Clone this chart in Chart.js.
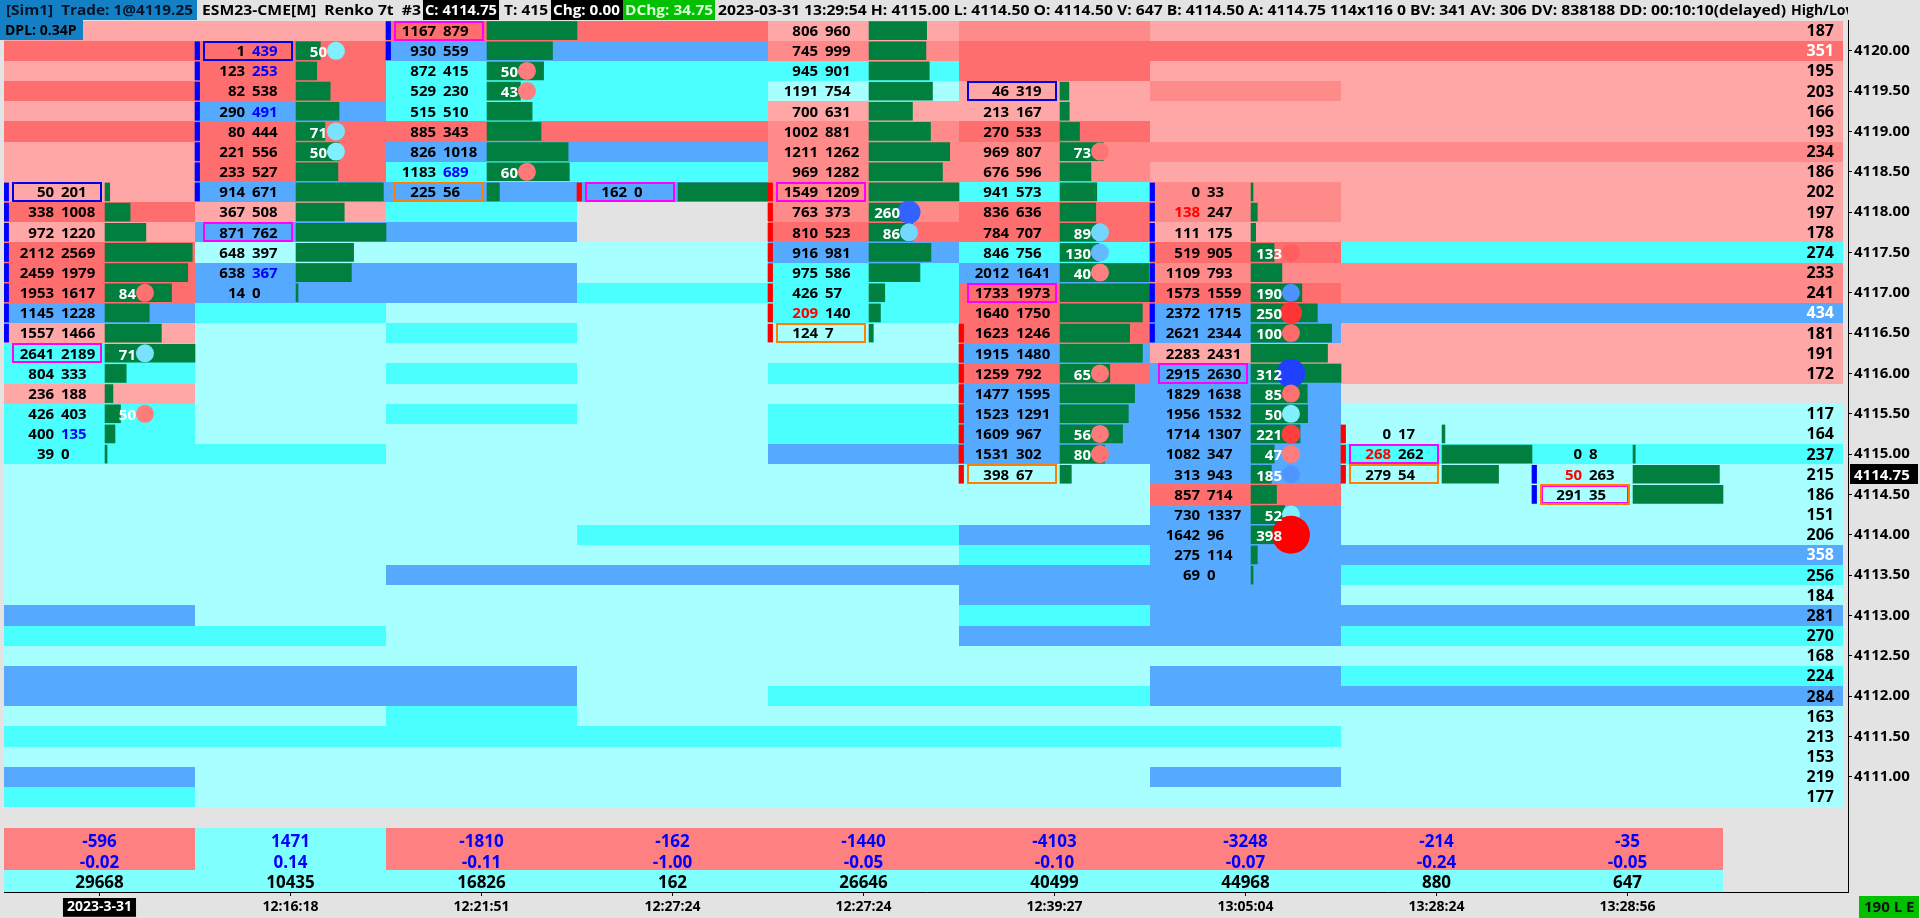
<!DOCTYPE html>
<html>
<head>
<meta charset="utf-8">
<title>ESM23-CME Renko 7t footprint</title>
<script src="https://cdn.jsdelivr.net/npm/chart.js@4.4.1/dist/chart.umd.min.js"></script>
<style>
  html, body { margin: 0; padding: 0; background: #e3e3e3; overflow: hidden; }
  #wrap { position: relative; width: 1920px; height: 918px; }
</style>
</head>
<body>
<div id="wrap"><canvas id="footprint" width="1920" height="918"></canvas></div>
<script>
// price rows shown on the chart, top to bottom
const priceLevels = [4120.25, 4120.00, 4119.75, 4119.50, 4119.25, 4119.00, 4118.75, 4118.50, 4118.25, 4118.00,
  4117.75, 4117.50, 4117.25, 4117.00, 4116.75, 4116.50, 4116.25, 4116.00, 4115.75, 4115.50,
  4115.25, 4115.00, 4114.75, 4114.50, 4114.25, 4114.00, 4113.75, 4113.50, 4113.25, 4113.00,
  4112.75, 4112.50, 4112.25, 4112.00, 4111.75, 4111.50, 4111.25, 4111.00, 4110.75];
const priceTicks = [4120.00, 4119.50, 4119.00, 4118.50, 4118.00, 4117.50, 4117.00, 4116.50, 4116.00,
  4115.50, 4115.00, 4114.50, 4114.00, 4113.50, 4113.00, 4112.50, 4112.00, 4111.50, 4111.00];
const timeLabels = ['2023-3-31', '12:16:18', '12:21:51', '12:27:24', '12:27:24', '12:39:27', '13:05:04', '13:28:24', '13:28:56'];
const currentPrice = 4114.75;

// footprint of each renko bar: first visible row, bid x ask per row
const firstRow = [8, 1, 0, 8, 0, 3, 8, 20, 21];
const bidVolume = [
  [50, 338, 972, 2112, 2459, 1953, 1145, 1557, 2641, 804, 236, 426, 400, 39],
  [1, 123, 82, 290, 80, 221, 233, 914, 367, 871, 648, 638, 14],
  [1167, 930, 872, 529, 515, 885, 826, 1183, 225],
  [162],
  [806, 745, 945, 1191, 700, 1002, 1211, 969, 1549, 763, 810, 916, 975, 426, 209, 124],
  [46, 213, 270, 969, 676, 941, 836, 784, 846, 2012, 1733, 1640, 1623, 1915, 1259, 1477, 1523, 1609, 1531, 398],
  [0, 138, 111, 519, 1109, 1573, 2372, 2621, 2283, 2915, 1829, 1956, 1714, 1082, 313, 857, 730, 1642, 275, 69],
  [0, 268, 279],
  [0, 50, 291]
];
const askVolume = [
  [201, 1008, 1220, 2569, 1979, 1617, 1228, 1466, 2189, 333, 188, 403, 135, 0],
  [439, 253, 538, 491, 444, 556, 527, 671, 508, 762, 397, 367, 0],
  [879, 559, 415, 230, 510, 343, 1018, 689, 56],
  [0],
  [960, 999, 901, 754, 631, 881, 1262, 1282, 1209, 373, 523, 981, 586, 57, 140, 7],
  [319, 167, 533, 807, 596, 573, 636, 707, 756, 1641, 1973, 1750, 1246, 1480, 792, 1595, 1291, 967, 302, 67],
  [33, 247, 175, 905, 793, 1559, 1715, 2344, 2431, 2630, 1638, 1532, 1307, 347, 943, 714, 1337, 96, 114, 0],
  [17, 262, 54],
  [8, 263, 35]
];
// imbalance highlights (row index)
const askHighlight = [[20], [1, 2, 4, 12], [7], [], [], [], [], [], []];
const bidHighlight = [[], [], [], [], [14], [], [9], [21], [22]];
// outlined cells: [row, kind]
const cellBoxes = [
  [[8, 'blue'], [16, 'magenta']],
  [[1, 'blue'], [10, 'magenta']],
  [[0, 'magenta'], [8, 'orange']],
  [[8, 'magenta']],
  [[8, 'magenta'], [15, 'orange']],
  [[3, 'blue'], [13, 'magenta'], [22, 'orange']],
  [[17, 'magenta']],
  [[21, 'magenta'], [22, 'orange']],
  [[23, 'both']]
];
// open/close body rows: [from, to, direction]
const bodyRange = [[8, 15, 'up'], [1, 8, 'up'], [0, 1, 'up'], [8, 8, 'down'], [8, 15, 'down'],
  [15, 22, 'down'], [8, 15, 'up'], [20, 22, 'down'], [22, 23, 'up']];
// large trade dots: [row, signed size]
const largeTrades = [
  [[13, -84], [16, 71], [19, -50]],
  [[1, 50], [5, 71], [6, 50]],
  [[2, -50], [3, -43], [7, -60]],
  [],
  [[9, 260], [10, 86]],
  [[6, -73], [10, 89], [11, 130], [12, -40], [17, -65], [20, -56], [21, -80]],
  [[11, -133], [13, 190], [14, -250], [15, -100], [17, 312], [18, -85], [19, 50], [20, -221], [21, -47], [22, 185], [24, 52], [25, -398]],
  [], []
];
// row shading per bar column, last entry = volume profile on the right
// P light red, M mid red, R red, B blue, C cyan, L light cyan, G none
const cellShade = [
  'PRPRPRPPPRPRRRBPCCPCCCLLLLLLLBCLBBLCLBC',
  'PRRRBRRRBPBLBBCLLLLLLCLLLLLLLLCLBBLCLLL',
  'RBCCCRBCBCBLBBLCLCLCLLLLLLLBLLLLBBCCLLL',
  'RBCCCRBCBGGLLCLLLLLLLLLLLCLBLLLLLLLCLLL',
  'PMCLPMMMMMRBCCCLLCLCCBLLLCLBLLLLLCLCLLL',
  'MRRPPRMMCRRCBRRRBRBBBBLLLBCBBCBLLCLCLLL',
  'PRPMPPMPMMPRMRBBPBBBBBBRBBBBBBBLBBLCLBL',
  'PRPPPPMPPPPCMMBPPPGLLCLLLLBCLBCLCBLLLLL'
];
const profileVolume = [187, 351, 195, 203, 166, 193, 234, 186, 202, 197, 178, 274, 233, 241, 434, 181, 191, 172, null,
  117, 164, 237, 215, 186, 151, 206, 358, 256, 184, 281, 270, 168, 224, 284, 163, 213, 153, 219, 177];

// study under the bars
const barDelta = [-596, 1471, -1810, -162, -1440, -4103, -3248, -214, -35];
const deltaRatio = [-0.02, 0.14, -0.11, -1.00, -0.05, -0.10, -0.07, -0.24, -0.05];
const barVolume = [29668, 10435, 16826, 162, 26646, 40499, 44968, 880, 647];

// layout inside a column (one column = 1 x unit)
const BOX_L = 0.042, BOX_R = 0.513;
const BID_X = 0.262, ASK_X = 0.298;
const BAR_START = 0.529, BAR_SPAN = 0.471;
const DOT_X = 0.738, DOT_LABEL_X = 0.691;
const BODY_W = 0.024;
const PROFILE_END = 9.628;

const SHADE = { P: '#ffa6a6', M: '#ff8a8a', R: '#ff6e6e', B: '#55aaff', C: '#4bffff', L: '#a8ffff' };
const BOX_COLOR = { blue: '#0000e6', magenta: '#ff00ff', orange: '#ff8000' };
const BOLD = "'Open Sans', 'DejaVu Sans', sans-serif";

function dotRadius(v) {
  return Math.max(9, 9.5 + (Math.abs(v) - 221) * 0.0537);
}
function dotColor(v) {
  if (v > 0) {
    const t = Math.min(1, Math.max(0, (v - 50) / 262));
    return `rgb(${Math.round(128 - 96 * t)},${Math.round(240 - 176 * t)},255)`;
  }
  const t = Math.min(1, Math.max(0, (-v - 40) / 358));
  const g = Math.round(128 - 128 * t);
  return `rgb(255,${g},${g})`;
}

const volumeBars = [], bodyBars = [], bodyColors = [], dots = [], dotColors = [];
bidVolume.forEach((bids, c) => {
  const totals = bids.map((b, i) => b + askVolume[c][i]);
  const top = Math.max(...totals);
  totals.forEach((t, i) => {
    volumeBars.push({ x: [c + BAR_START, c + BAR_START + BAR_SPAN * t / top], y: priceLevels[firstRow[c] + i] });
  });
  const [from, to, dir] = bodyRange[c];
  for (let r = from; r <= to; r++) {
    bodyBars.push({ x: [c, c + BODY_W], y: priceLevels[r] });
    bodyColors.push(dir === 'up' ? '#0000ff' : '#ff0000');
  }
  largeTrades[c].forEach(([r, v]) => {
    dots.push({ x: c + DOT_X, y: priceLevels[r], r: dotRadius(v) });
    dotColors.push(dotColor(v));
  });
});

function rowEdges(y, p) {
  const top = Math.round(y.getPixelForValue(p + 0.125));
  const bot = Math.round(y.getPixelForValue(p - 0.125));
  return [top, bot];
}

const footprint = {
  id: 'footprint',
  beforeDatasetsDraw(chart) {
    const { ctx, scales: { x, y, ys } } = chart;
    ctx.save();
    cellShade.forEach((col, r) => {
      const x0 = Math.round(x.getPixelForValue(r));
      const x1 = Math.round(x.getPixelForValue(r < 7 ? r + 1 : PROFILE_END));
      [...col].forEach((s, i) => {
        if (!SHADE[s]) return;
        const [top, bot] = rowEdges(y, priceLevels[i]);
        ctx.fillStyle = SHADE[s];
        ctx.fillRect(x0, top, x1 - x0, bot - top);
      });
    });
    // study bands
    barDelta.forEach((d, c) => {
      const x0 = Math.round(x.getPixelForValue(c));
      const x1 = Math.round(x.getPixelForValue(c + 1));
      const a = Math.round(ys.getPixelForValue(3.2)), b = Math.round(ys.getPixelForValue(1.1)), z = Math.round(ys.getPixelForValue(0));
      ctx.fillStyle = d < 0 ? '#ff8080' : '#80ffff';
      ctx.fillRect(x0, a, x1 - x0, b - a);
      ctx.fillStyle = '#80ffff';
      ctx.fillRect(x0, b, x1 - x0, z - b);
    });
    ctx.restore();
  },
  afterDatasetsDraw(chart) {
    const { ctx, scales: { x, y, ys } } = chart;
    ctx.save();
    ctx.textBaseline = 'middle';
    // outlined cells
    ctx.lineWidth = 2;
    cellBoxes.forEach((boxes, c) => {
      boxes.forEach(([r, kind]) => {
        const [top, bot] = rowEdges(y, priceLevels[r]);
        const x0 = Math.round(x.getPixelForValue(c + BOX_L));
        const x1 = Math.round(x.getPixelForValue(c + BOX_R));
        ctx.strokeStyle = BOX_COLOR[kind === 'both' ? 'orange' : kind];
        ctx.strokeRect(x0 + 1, top + 1, x1 - x0 - 2, bot - top - 2);
        if (kind === 'both') {
          ctx.strokeStyle = BOX_COLOR.magenta;
          ctx.lineWidth = 1;
          ctx.strokeRect(x0 + 2.5, top + 2.5, x1 - x0 - 5, bot - top - 5);
          ctx.lineWidth = 2;
        }
      });
    });
    // bid x ask text
    ctx.font = `bold 15px ${BOLD}`;
    bidVolume.forEach((bids, c) => {
      bids.forEach((b, i) => {
        const r = firstRow[c] + i;
        const yc = y.getPixelForValue(priceLevels[r]) + 1;
        ctx.textAlign = 'right';
        ctx.fillStyle = bidHighlight[c].includes(r) ? '#ff0000' : '#000';
        ctx.fillText(String(b), x.getPixelForValue(c + BID_X), yc);
        ctx.textAlign = 'left';
        ctx.fillStyle = askHighlight[c].includes(r) ? '#0000ff' : '#000';
        ctx.fillText(String(askVolume[c][i]), x.getPixelForValue(c + ASK_X), yc);
      });
    });
    // dot labels
    ctx.fillStyle = '#fff';
    ctx.textAlign = 'right';
    largeTrades.forEach((list, c) => {
      list.forEach(([r, v]) => {
        ctx.fillText(String(Math.abs(v)), x.getPixelForValue(c + DOT_LABEL_X), y.getPixelForValue(priceLevels[r]) + 2);
      });
    });
    // volume profile numbers
    ctx.font = `bold 16px ${BOLD}`;
    const px = x.getPixelForValue(PROFILE_END) - 9;
    profileVolume.forEach((v, i) => {
      if (v === null) return;
      ctx.fillStyle = v > 300 ? '#fff' : '#000';
      ctx.fillText(String(v), px, y.getPixelForValue(priceLevels[i]) + 1);
    });
    // study text
    ctx.textAlign = 'center';
    ctx.font = `bold 17px ${BOLD}`;
    barDelta.forEach((d, c) => {
      const cx = x.getPixelForValue(c + 0.5);
      ctx.fillStyle = '#0000ff';
      ctx.fillText(String(d), cx, ys.getPixelForValue(2.5));
      ctx.fillText(deltaRatio[c].toFixed(2), cx, ys.getPixelForValue(1.45));
      ctx.fillStyle = '#000';
      ctx.fillText(String(barVolume[c]), cx, ys.getPixelForValue(0.45));
    });
    ctx.restore();
  },
  afterDraw(chart) {
    const { ctx, scales: { y } } = chart;
    ctx.save();
    ctx.textBaseline = 'middle';
    // last price tag
    const yp = y.getPixelForValue(currentPrice);
    ctx.fillStyle = '#000';
    ctx.fillRect(1850, Math.round(yp) - 10, 68, 20);
    ctx.fillStyle = '#fff';
    ctx.font = `bold 15px ${BOLD}`;
    ctx.textAlign = 'left';
    ctx.fillText(currentPrice.toFixed(2), 1854, yp + 1);
    // header line
    ctx.font = `bold 14px ${BOLD}`;
    const parts = [
      ['[Sim1]  Trade: 1@4119.25', '#1380c6', '#06142a', 0, 197, 6, 193],
      ['ESM23-CME[M]  Renko 7t  #3', null, '#000', 197, 423, 202, 421],
      ['C: 4114.75', '#000', '#fff', 423, 499, 425, 497],
      ['T: 415', null, '#000', 499, 551, 504, 548],
      ['Chg: 0.00', '#000', '#fff', 551, 623, 553, 620],
      ['DChg: 34.75', '#00c000', '#d8ffd8', 623, 715, 625, 713],
      ['2023-03-31 13:29:54 H: 4115.00 L: 4114.50 O: 4114.50 V: 647 B: 4114.50 A: 4114.75 114x116 0 BV: 341 AV: 306 DV: 838188 DD: 00:10:10(delayed)', null, '#000', 715, 1790, 718, 1786]
    ];
    parts.forEach(([text, bg, fg, b0, b1, t0, t1]) => {
      if (bg) { ctx.fillStyle = bg; ctx.fillRect(b0, 0, b1 - b0, 20); }
      const w = ctx.measureText(text).width;
      ctx.save();
      ctx.translate(t0, 11);
      ctx.scale((t1 - t0) / w, 1);
      ctx.fillStyle = fg;
      ctx.fillText(text, 0, 0);
      ctx.restore();
    });
    ctx.save();
    ctx.beginPath();
    ctx.rect(1788, 0, 60, 20);
    ctx.clip();
    ctx.fillStyle = '#000';
    ctx.fillText('High/Low', 1791, 11);
    ctx.restore();
    // second header line
    ctx.fillStyle = '#1380c6';
    ctx.fillRect(0, 20, 83, 20);
    ctx.fillStyle = '#000';
    ctx.fillText('DPL: 0.34P', 5, 31);
    // status tag
    ctx.fillStyle = '#00c000';
    ctx.fillRect(1859, 896, 60, 22);
    ctx.fillStyle = '#111';
    ctx.font = `bold 15px ${BOLD}`;
    ctx.fillText('190 L E', 1864, 908);
    ctx.restore();
  }
};

const chart = new Chart(document.getElementById('footprint').getContext('2d'), {
  type: 'bar',
  data: {
    datasets: [
      {
        type: 'bar', indexAxis: 'y', data: volumeBars, backgroundColor: '#007f3f',
        barThickness: 18, minBarLength: 2, grouped: false, order: 3, xAxisID: 'x', yAxisID: 'y'
      },
      {
        type: 'bar', indexAxis: 'y', data: bodyBars, backgroundColor: bodyColors,
        barThickness: 18, grouped: false, order: 2, xAxisID: 'x', yAxisID: 'y'
      },
      {
        type: 'bubble', data: dots, backgroundColor: dotColors, borderWidth: 0, order: 1, xAxisID: 'x', yAxisID: 'y'
      }
    ]
  },
  options: {
    responsive: false,
    devicePixelRatio: 1,
    animation: false,
    events: [],
    layout: { autoPadding: false, padding: { left: 4, top: 20, right: 0, bottom: 0 } },
    plugins: { legend: { display: false }, tooltip: { enabled: false } },
    scales: {
      x: {
        type: 'linear', position: 'bottom', min: 0, max: 9.6545, offset: false,
        afterFit: s => { s.height = 26; s.paddingLeft = 0; s.paddingRight = 0; },
        afterBuildTicks: s => { s.ticks = timeLabels.map((t, i) => ({ value: i + 0.5 })); },
        ticks: {
          autoSkip: false, maxRotation: 0, padding: 3,
          callback: (v, i) => timeLabels[i],
          font: { family: BOLD, size: 14, weight: 'bold' },
          color: c => c.index === 0 ? '#fff' : '#000',
          showLabelBackdrop: true,
          backdropColor: c => c.index === 0 ? '#000' : 'rgba(0,0,0,0)',
          backdropPadding: { x: 4, y: 1 }
        },
        grid: { offset: false, drawOnChartArea: false, drawTicks: true, tickLength: 4, color: '#000' },
        border: { display: true, color: '#000', width: 1 }
      },
      y: {
        type: 'linear', position: 'right', min: 4109.5715, max: 4120.3814, offset: false,
        afterFit: s => { s.width = 72; s.paddingTop = 0; s.paddingBottom = 0; },
        afterBuildTicks: s => { s.ticks = priceTicks.map(v => ({ value: v })); },
        ticks: {
          autoSkip: false, padding: 2,
          callback: v => Number(v).toFixed(2),
          font: { family: BOLD, size: 15, weight: 'bold' },
          color: '#000'
        },
        grid: { offset: false, drawOnChartArea: false, drawTicks: true, tickLength: 4, color: '#000' },
        border: { display: true, color: '#000', width: 1 }
      },
      ys: { type: 'linear', display: false, min: 0, max: 43.6 }
    }
  },
  plugins: [footprint]
});
</script>
</body>
</html>
